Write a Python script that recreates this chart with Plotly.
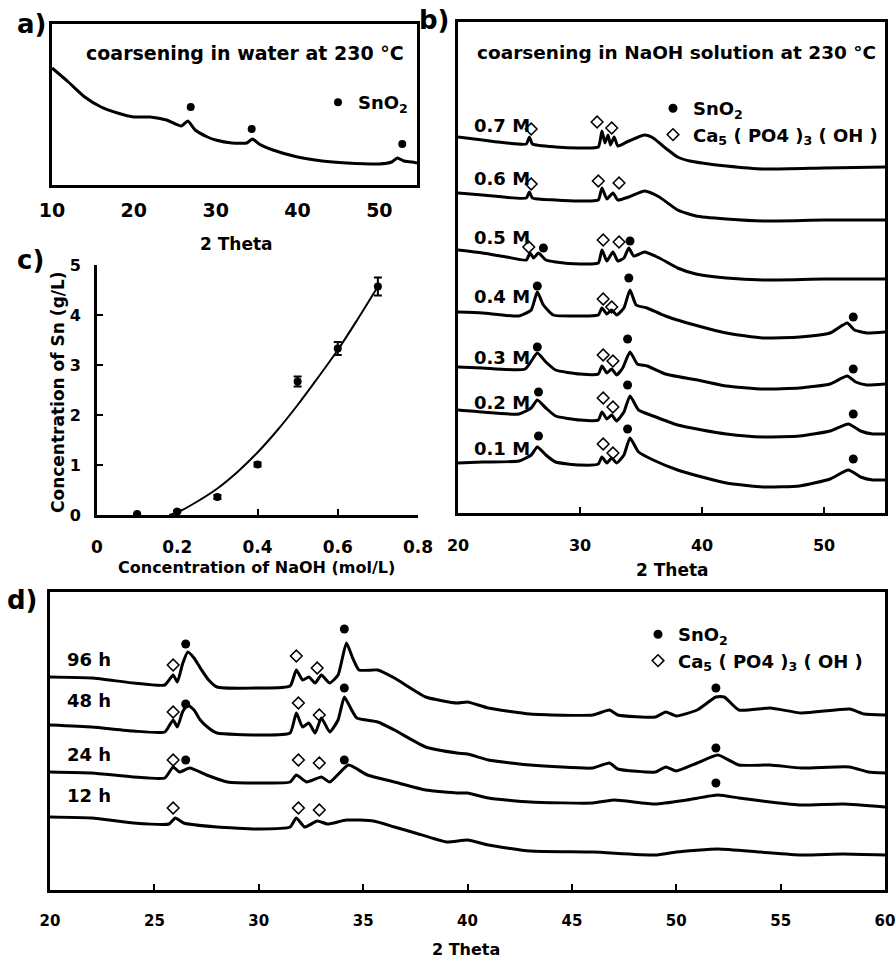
import plotly.graph_objects as go

W, H = 896, 958
FONT = "DejaVu Sans, Liberation Sans, Arial, sans-serif"


def px(x):
    return x / W


def py(y):
    return 1 - y / H


# ---------------- panel a : coarsening in water ----------------
a_theta = [10, 12, 14, 16, 18, 20, 22, 24, 25.8, 26.6, 27.5, 29, 30, 32, 33.8, 34.5, 35.3, 37, 40, 43, 46, 50, 51.5, 52.2, 53, 54, 54.6]
a_int = [117, 103, 88, 78, 72, 68, 68, 65, 59, 64, 55, 48, 45, 42, 42, 46, 41, 35, 28, 24, 22, 21, 23, 27, 24, 23, 22]
a_sno2_theta = [26.95, 34.4, 52.8]
a_sno2_int = [78, 56, 41]

# ---------------- panel b : NaOH concentration series ----------------
b_labels = ["0.7 M", "0.6 M", "0.5 M", "0.4 M", "0.3 M", "0.2 M", "0.1 M"]
b07_t = [20, 22, 24, 25.6, 25.85, 26.1, 28, 30, 31.5, 31.8, 32.05, 32.3, 32.5, 32.8, 33.1, 34, 35.3, 36, 37, 38, 39, 40, 42, 45, 50, 55]
b07_i = [376, 373, 370, 369, 376, 369, 366, 365, 366, 382, 370, 378, 368, 376, 367, 372, 378, 375, 365, 356, 352, 350, 347, 344, 345, 346]
b06_t = [20, 22, 25.6, 25.85, 26.1, 28, 30, 31.5, 31.8, 32.2, 32.7, 33.1, 34, 35.3, 36.5, 38, 39.5, 42, 45, 50, 55]
b06_i = [320, 318, 315, 321, 315, 313, 312, 313, 325, 314, 320, 313, 316, 322, 316, 303, 297, 294, 292, 293, 293]
b05_t = [20, 22, 24, 25.6, 25.9, 26.2, 26.6, 27.2, 28, 30, 31.5, 31.8, 32.2, 32.7, 33.1, 33.6, 34.0, 34.4, 35.3, 36.5, 38, 39.5, 42, 45, 50, 55]
b05_i = [263, 260, 256, 253, 260, 255, 260, 253, 251, 249, 250, 263, 252, 261, 252, 255, 265, 257, 261, 255, 245, 239, 235, 233, 234, 234]
b04_t = [20, 22, 25, 26, 26.5, 27, 27.8, 30, 31.5, 31.8, 32.2, 32.6, 33.0, 33.6, 34.1, 34.6, 35.5, 37, 40, 42, 45, 48, 50.5, 51.9, 52.5, 53.5, 55]
b04_i = [201, 200, 197, 203, 221, 208, 198, 197, 198, 205, 199, 203, 198, 205, 223, 208, 205, 197, 186, 180, 175, 176, 180, 190, 183, 180, 181]
b03_t = [20, 22, 25.5, 26.5, 27.2, 28, 30, 31.5, 31.8, 32.2, 32.6, 33.0, 33.5, 34.1, 34.7, 35.5, 37, 40, 42, 45, 48, 50.5, 51.9, 52.6, 53.5, 55]
b03_i = [146, 145, 144, 160, 151, 143, 139, 139, 147, 140, 144, 138, 145, 161, 149, 147, 139, 132, 127, 124, 125, 129, 137, 131, 128, 129]
b02_t = [20, 22, 25, 26, 26.5, 27.2, 28, 30, 31.5, 31.8, 32.2, 32.6, 33.0, 33.6, 34.1, 34.8, 36, 38, 40, 42, 45, 48, 50.5, 52, 53, 54, 55]
b02_i = [103, 101, 99, 105, 113, 105, 97, 93, 93, 101, 94, 98, 92, 101, 117, 103, 97, 88, 83, 79, 76, 77, 82, 89, 82, 79, 79]
b01_t = [20, 22, 25, 26, 26.5, 27.2, 28, 30, 31.5, 31.8, 32.2, 32.6, 33.0, 33.6, 34.1, 34.8, 36, 38, 40, 42, 45, 48, 50.5, 52, 53, 54, 55]
b01_i = [50, 51, 52, 58, 66, 58, 51, 48, 49, 56, 50, 55, 50, 58, 75, 61, 53, 43, 36, 30, 26, 27, 34, 43, 36, 33, 33]
b_sno2_t = [27.0, 34.1, 26.5, 34.0, 52.4, 26.5, 33.9, 52.4, 26.6, 33.9, 52.4, 26.6, 33.9, 52.4]
b_sno2_i = [265, 272, 227, 235, 196, 166, 174, 144, 121, 128, 99, 77, 84, 54]
b_hap_t = [26.0, 31.4, 32.6, 26.0, 31.5, 33.2, 25.8, 31.9, 33.2, 31.9, 32.6, 31.9, 32.7, 31.9, 32.7, 31.9, 32.7]
b_hap_i = [384, 391, 385, 329, 332, 330, 266, 273, 271, 214, 206, 158, 152, 115, 106, 69, 60]

# ---------------- panel c : Sn solubility vs NaOH ----------------
c_naoh = [0.1, 0.2, 0.3, 0.4, 0.5, 0.6, 0.7]
c_sn = [0.02, 0.07, 0.36, 1.01, 2.67, 3.33, 4.57]
c_err = [0.0, 0.02, 0.04, 0.04, 0.1, 0.13, 0.18]
c_fit_x = [0.18, 0.2, 0.25, 0.3, 0.35, 0.4, 0.45, 0.5, 0.55, 0.6, 0.65, 0.7]
c_fit_y = [0.0, 0.05, 0.27, 0.53, 0.86, 1.25, 1.7, 2.2, 2.74, 3.3, 3.92, 4.57]
c_ticks = [0, 0.2, 0.4, 0.6, 0.8]
c_ticktext = ["0", "0.2", "0.4", "0.6", "0.8"]

# ---------------- panel d : time series ----------------
d_labels = ["96 h", "48 h", "24 h", "12 h"]
d96_t = [20, 22, 24, 25.5, 25.9, 26.1, 26.35, 26.6, 26.9, 27.2, 27.6, 28, 30, 31.5, 31.8, 32.1, 32.4, 32.7, 33.0, 33.4, 33.8, 34.2, 34.5, 34.8, 35.7, 36.5, 38, 39.5, 40, 41, 43, 46, 46.8, 47.2, 49, 49.5, 50, 51, 51.9, 52.3, 53, 54.5, 56, 58.3, 59, 60]
d96_i = [213, 212, 207, 205, 215, 208, 226, 238, 232, 222, 210, 203, 202, 204, 220, 210, 213, 207, 215, 207, 215, 247, 232, 220, 220, 212, 193, 187, 188, 182, 176, 175, 180, 175, 173, 178, 174, 180, 193, 193, 180, 182, 177, 181, 176, 175]
d48_t = [20, 22, 24, 25.5, 25.9, 26.1, 26.35, 26.6, 26.9, 27.2, 27.6, 28, 30, 31.5, 31.8, 32.1, 32.4, 32.7, 33.0, 33.4, 33.8, 34.1, 34.4, 34.7, 35.7, 36.5, 38, 39.5, 40, 41, 43, 46, 46.8, 47.2, 49, 49.5, 50, 51, 52, 53, 54.5, 56, 58.3, 59.2, 60]
d48_i = [165, 163, 159, 158, 170, 163, 178, 185, 180, 170, 162, 157, 155, 157, 177, 163, 167, 157, 172, 158, 170, 193, 182, 172, 168, 160, 143, 137, 136, 130, 125, 122, 127, 121, 118, 123, 119, 127, 135, 125, 125, 122, 123, 118, 117]
d24_t = [20, 22, 24, 25.5, 25.9, 26.2, 26.7, 27.5, 28.5, 30, 31.5, 31.8, 32.3, 33.0, 33.4, 34.3, 35.2, 36.5, 38, 39.5, 40, 41, 43, 46, 47, 49, 50.5, 52, 53, 54.5, 56, 58, 60]
d24_i = [118, 117, 113, 112, 123, 118, 122, 115, 108, 107, 108, 115, 108, 113, 108, 125, 115, 108, 100, 97, 97, 92, 88, 87, 90, 86, 90, 95, 92, 88, 85, 86, 83]
d12_t = [20, 22, 24, 25.7, 26.0, 26.4, 28, 30, 31.5, 31.8, 32.2, 32.8, 33.3, 34.2, 35.5, 36.5, 37.5, 39, 40, 41, 43, 46, 49, 50, 52, 54, 56, 58, 60]
d12_i = [73, 72, 67, 66, 72, 67, 63, 61, 63, 72, 63, 69, 66, 70, 69, 63, 57, 48, 50, 45, 39, 38, 35, 38, 41, 38, 35, 36, 35]
d_sno2_t = [26.5, 34.1, 51.9, 26.5, 34.1, 51.9, 26.5, 34.1, 51.9]
d_sno2_i = [246, 261, 202, 186, 202, 142, 130, 130, 107]
d_hap_t = [25.9, 31.8, 32.8, 25.9, 31.9, 32.9, 25.9, 31.9, 32.9, 25.9, 31.9, 32.9]
d_hap_i = [225, 234, 222, 178, 187, 175, 130, 130, 127, 82, 82, 80]

SNO2 = "SnO<sub>2</sub>"
HAP = "Ca<sub>5</sub> ( PO4 )<sub>3</sub> ( OH )"

fig = go.Figure()

LINE = dict(color="black", width=3, shape="spline", smoothing=0.5)

# panel a
fig.add_trace(go.Scatter(x=a_theta, y=a_int, mode="lines", line=LINE, xaxis="x", yaxis="y", showlegend=False))
fig.add_trace(go.Scatter(x=a_sno2_theta, y=a_sno2_int, mode="markers", name=SNO2,
                         marker=dict(symbol="circle", size=8, color="black"), xaxis="x", yaxis="y", legend="legend"))

# panel b
for t, i in [(b07_t, b07_i), (b06_t, b06_i), (b05_t, b05_i), (b04_t, b04_i), (b03_t, b03_i), (b02_t, b02_i), (b01_t, b01_i)]:
    fig.add_trace(go.Scatter(x=t, y=i, mode="lines", line=LINE, xaxis="x2", yaxis="y2", showlegend=False))
fig.add_trace(go.Scatter(x=b_sno2_t, y=b_sno2_i, mode="markers", name=SNO2,
                         marker=dict(symbol="circle", size=9, color="black"), xaxis="x2", yaxis="y2", legend="legend2"))
fig.add_trace(go.Scatter(x=b_hap_t, y=b_hap_i, mode="markers", name=HAP,
                         marker=dict(symbol="diamond-open", size=9, color="black", line=dict(width=1.5)),
                         xaxis="x2", yaxis="y2", legend="legend2"))

# panel c
fig.add_trace(go.Scatter(x=c_fit_x, y=c_fit_y, mode="lines", line=dict(color="black", width=2, shape="spline"),
                         xaxis="x3", yaxis="y3", showlegend=False))
fig.add_trace(go.Scatter(x=c_naoh, y=c_sn, mode="markers", marker=dict(symbol="circle", size=8, color="black"),
                         error_y=dict(type="data", array=c_err, color="black", thickness=2, width=4),
                         xaxis="x3", yaxis="y3", showlegend=False))

# panel d
for t, i in [(d96_t, d96_i), (d48_t, d48_i), (d24_t, d24_i), (d12_t, d12_i)]:
    fig.add_trace(go.Scatter(x=t, y=i, mode="lines", line=LINE, xaxis="x4", yaxis="y4", showlegend=False))
fig.add_trace(go.Scatter(x=d_sno2_t, y=d_sno2_i, mode="markers", name=SNO2,
                         marker=dict(symbol="circle", size=9, color="black"), xaxis="x4", yaxis="y4", legend="legend3"))
fig.add_trace(go.Scatter(x=d_hap_t, y=d_hap_i, mode="markers", name=HAP,
                         marker=dict(symbol="diamond-open", size=9, color="black", line=dict(width=1.5)),
                         xaxis="x4", yaxis="y4", legend="legend3"))


def box_x(domain, rng, tickvals, size, standoff, ticks="inside", anchor="y", ticktext=None, mirror=True):
    d = dict(domain=domain, range=rng, anchor=anchor, showgrid=False, zeroline=False, automargin=False,
             showline=True, linecolor="black", linewidth=3, mirror=mirror,
             tickmode="array", tickvals=tickvals, ticks=ticks, ticklen=6, tickwidth=2, tickcolor="black",
             ticklabelstandoff=standoff,
             tickfont=dict(family=FONT, size=size, color="black", weight="bold"))
    if ticktext is not None:
        d["ticktext"] = ticktext
    return d


def box_y(domain, rng, anchor):
    return dict(domain=domain, range=rng, anchor=anchor, showgrid=False, zeroline=False, automargin=False,
                showline=True, linecolor="black", linewidth=3, mirror=True,
                showticklabels=False, ticks="")


legend_font = dict(family=FONT, size=18, color="black", weight="bold")

fig.update_layout(
    width=W, height=H, margin=dict(l=0, r=0, t=0, b=0, autoexpand=False),
    paper_bgcolor="white", plot_bgcolor="white",
    xaxis=box_x([px(52), px(417)], [10, 54.6], [10, 20, 30, 40, 50], 19, 6, ticks="", anchor="y"),
    yaxis=box_y([py(185), py(24)], [0, 161], "x"),
    xaxis2=box_x([px(458), px(885)], [20, 55], [20, 30, 40, 50], 16, 16, anchor="y2"),
    yaxis2=box_y([py(513), py(22)], [0, 491], "x2"),
    xaxis3=box_x([px(97), px(418)], [0, 0.8], c_ticks, 17, 15, anchor="y3", ticktext=c_ticktext, mirror=False),
    yaxis3=dict(domain=[py(515), py(265)], range=[0, 5], anchor="x3", showgrid=False, zeroline=False,
                automargin=False,
                showline=True, linecolor="black", linewidth=3, tickmode="array", tickvals=[0, 1, 2, 3, 4, 5],
                ticks="inside", ticklen=6, tickwidth=2, tickcolor="black", ticklabelstandoff=10,
                tickfont=dict(family=FONT, size=16, color="black", weight="bold")),
    xaxis4=box_x([px(50), px(885)], [20, 60], [20, 25, 30, 35, 40, 45, 50, 55, 60], 15, 15, anchor="y4"),
    yaxis4=box_y([py(890), py(592)], [0, 298], "x4"),
    legend=dict(x=px(318), y=py(84), xanchor="left", yanchor="top", font=legend_font,
                bgcolor="rgba(0,0,0,0)", tracegroupgap=0),
    legend2=dict(x=px(653), y=py(90), xanchor="left", yanchor="top", font=legend_font,
                 bgcolor="rgba(0,0,0,0)", tracegroupgap=0),
    legend3=dict(x=px(638), y=py(616), xanchor="left", yanchor="top", font=legend_font,
                 bgcolor="rgba(0,0,0,0)", tracegroupgap=0),
)

anns = []


def note(text, x, y, size, xanchor="center", angle=0):
    anns.append(dict(text=text, x=px(x), y=py(y), xref="paper", yref="paper", showarrow=False,
                     xanchor=xanchor, yanchor="middle", textangle=angle,
                     font=dict(family=FONT, size=size, color="black", weight="bold")))


note("a)", 31, 24, 26)
note("b)", 434, 20, 26)
note("c)", 30, 260, 26)
note("d)", 22, 600, 26)
note("coarsening in water at 230 °C", 245, 53, 19)
note("coarsening in NaOH solution at 230 °C", 676, 52, 18.5)
note("2 Theta", 236, 244, 17)
note("2 Theta", 672, 570, 17)
note("Concentration of NaOH (mol/L)", 256, 567, 16)
note("Concentration of Sn (g/L)", 58, 392, 17, angle=-90)
note("2 Theta", 466, 949, 16)
for lab, yy in zip(b_labels, [125, 178, 237, 297, 357, 402, 448]):
    note(lab, 472, yy, 18, xanchor="left")
for lab, yy in zip(d_labels, [659, 700, 754, 795]):
    note(lab, 65, yy, 18, xanchor="left")

fig.update_layout(annotations=anns)
fig.write_html("out.html", config={"displayModeBar": False},
               post_script="document.body.style.margin='0px';document.body.style.overflow='hidden';")
